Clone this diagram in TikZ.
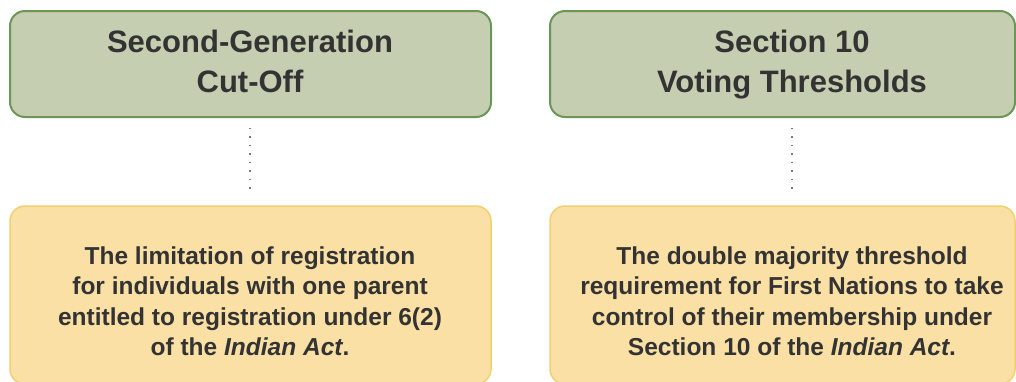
\documentclass[tikz,border=0pt]{standalone}
\usepackage{fontspec}
\setmainfont{Liberation Sans}
\definecolor{gfill}{RGB}{197,206,177}
\definecolor{gdraw}{RGB}{106,150,88}
\definecolor{yfill}{RGB}{250,224,164}
\definecolor{ydraw}{RGB}{240,208,112}
\definecolor{txt}{RGB}{51,51,51}
\definecolor{dotc}{RGB}{120,120,120}
\tikzset{
  gbox/.style={draw=gdraw, fill=gfill, line width=2pt, rounded corners=15pt, inner sep=0pt},
  ybox/.style={draw=ydraw, fill=yfill, line width=1.5pt, rounded corners=15pt, inner sep=0pt},
  htext/.style={align=center, text=txt, inner sep=0pt, font=\fontsize{31}{40}\selectfont\bfseries},
  btext/.style={align=center, text=txt, inner sep=0pt, font=\fontsize{24.5}{30.3}\selectfont\bfseries},
  dotline/.style={draw=dotc, line width=1.5pt, dash pattern=on 1.5pt off 7pt, shorten <=9.5pt, shorten >=10pt}
}
\begin{document}
\begin{tikzpicture}[x=1pt,y=-1pt]
\useasboundingbox (0,0) rectangle (1016,381);
\clip (0,0) rectangle (1016,381);
% boxes
\node[gbox, minimum width=481pt, minimum height=106pt] (g1) at (250.5,64) {};
\node[gbox, minimum width=465pt, minimum height=106pt] (g2) at (782.5,64) {};
\node[ybox, minimum width=481pt, minimum height=178pt] (y1) at (250.5,295) {};
\node[ybox, minimum width=465pt, minimum height=178pt] (y2) at (782.5,295) {};
% texts
\node[htext, anchor=base] (h1) at (250,92) {Second-Generation\\Cut-Off};
\node[htext, anchor=base] (h2) at (792,92) {Section 10\\Voting Thresholds};
\node[btext, anchor=base] (b1) at (250,355.5) {The limitation of registration\\for individuals with one parent\\entitled to registration under 6(2)\\of the \textit{Indian Act}.};
\node[btext, anchor=base] (b2) at (792,355.5) {The double majority threshold\\requirement for First Nations to take\\control of their membership under\\Section 10 of the \textit{Indian Act}.};
% connectors
\draw[dotline] (g1.south -| h1) -- (y1.north -| h1);
\draw[dotline] (g2.south -| h2) -- (y2.north -| h2);
\end{tikzpicture}
\end{document}
